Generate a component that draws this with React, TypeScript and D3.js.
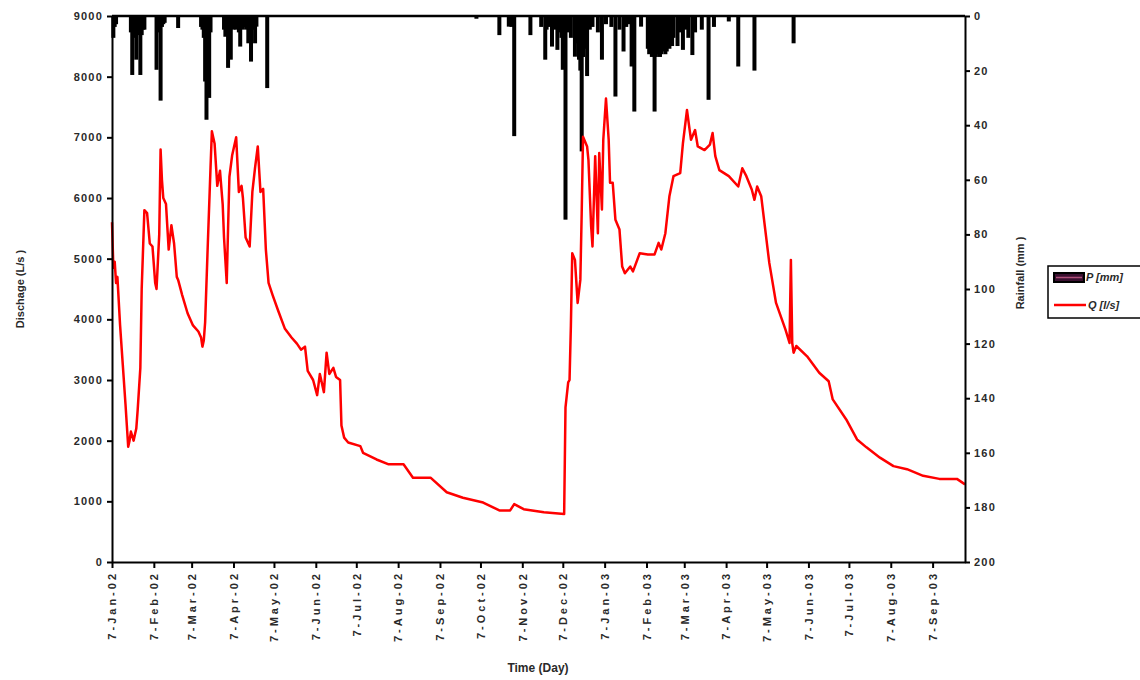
import React, { useEffect, useRef } from "react";
import * as d3 from "d3";

// Day 0 of the record is 7-Jan-2002; every reading is keyed by its day number.
const SERIES_START = new Date(2002, 0, 7);
const AXIS_END = new Date(2003, 9, 1);

// Discharge Q [l/s], [day, value]
const discharge: [number, number][] = [
  [0, 5600], [1, 4850], [2, 4950], [3, 4600], [4, 4700], [6, 3900], [8, 3250], [10, 2600],
  [11, 2250], [12, 1900], [13, 2000], [14, 2150], [16, 2000], [17, 2100], [18, 2200], [19, 2500],
  [21, 3200], [22, 4500], [24, 5800], [26, 5750], [28, 5250], [30, 5200], [32, 4600], [33, 4500],
  [34, 4950], [35, 5400], [36, 6800], [37, 6300], [38, 6000], [40, 5900], [42, 5150], [44, 5550],
  [46, 5250], [48, 4700], [49, 4650], [52, 4400], [56, 4100], [60, 3900], [64, 3800], [66, 3700],
  [67, 3550], [68, 3650], [69, 3950], [71, 5250], [73, 6500], [74, 7100], [76, 6900], [78, 6200],
  [80, 6450], [82, 5900], [83, 5350], [85, 4600], [86, 5500], [87, 6350], [89, 6700], [92, 7000],
  [94, 6100], [96, 6200], [97, 6000], [99, 5350], [102, 5200], [104, 6100], [106, 6500], [108, 6850],
  [110, 6100], [112, 6150], [114, 5150], [116, 4600], [119, 4400], [123, 4150], [128, 3850], [133, 3700],
  [137, 3600], [140, 3500], [143, 3550], [145, 3150], [149, 3000], [152, 2750], [154, 3100], [157, 2800],
  [159, 3450], [161, 3100], [164, 3200], [166, 3050], [169, 3000], [170, 2250], [172, 2050], [175, 1970],
  [184, 1910], [186, 1800], [196, 1690], [205, 1610], [216, 1610], [223, 1390], [236, 1390], [248, 1150],
  [260, 1060], [275, 980], [287, 850], [295, 850], [298, 955], [305, 870], [320, 820], [335, 790],
  [336, 2550], [338, 2960], [339, 3000], [340, 3900], [341, 5090], [343, 4980], [345, 4270], [347, 4650],
  [348, 5750], [349, 7010], [352, 6850], [353, 6630], [355, 5530], [356, 5200], [358, 6690], [360, 5420],
  [361, 6740], [363, 5810], [364, 6960], [366, 7640], [368, 6960], [369, 6250], [371, 6250], [373, 5640],
  [376, 5480], [378, 4870], [380, 4760], [384, 4870], [386, 4790], [391, 5090], [397, 5070], [402, 5070],
  [405, 5260], [407, 5150], [410, 5420], [413, 6030], [416, 6360], [421, 6410], [423, 6900], [426, 7450],
  [428, 7120], [429, 6960], [432, 7120], [434, 6850], [439, 6790], [443, 6880], [445, 7070], [447, 6690],
  [450, 6460], [457, 6360], [464, 6190], [467, 6490], [470, 6360], [474, 6140], [476, 5970], [478, 6190],
  [481, 6030], [484, 5480], [487, 4930], [492, 4270], [499, 3830], [502, 3610], [503, 4980], [504, 3610],
  [505, 3450], [507, 3560], [515, 3390], [524, 3120], [531, 2980], [534, 2680], [544, 2350], [552, 2020],
  [559, 1890], [569, 1720], [579, 1580], [589, 1530], [601, 1420], [613, 1370], [626, 1370], [632, 1280],
];

// Daily rainfall P [mm], [day, value]
const rainfall: [number, number][] = [
  [1, 8], [2, 4], [3, 3],
  [14, 6], [15, 21.6], [16, 8], [17, 6], [18, 16], [19, 7], [20, 6], [21, 21.6], [22, 7], [23, 5], [24, 5],
  [33, 19.7], [34, 6], [35, 5], [36, 31], [37, 4], [38, 3], [39, 2.5],
  [49, 4.4],
  [66, 4], [67, 5], [68, 8], [69, 24], [70, 38], [71, 12], [72, 30], [73, 6],
  [83, 5], [84, 7.6], [85, 5], [86, 19], [87, 6], [88, 16], [89, 4], [90, 5], [91, 4], [92, 5], [93, 4],
  [94, 6], [95, 11.2], [96, 4], [97, 5], [98, 3.3], [99, 4], [100, 5], [101, 10], [102, 6], [103, 16.7],
  [104, 5], [105, 4], [106, 10], [107, 3.9],
  [115, 26.4],
  [270, 1],
  [287, 7], [294, 3.9], [296, 4], [298, 44],
  [310, 7], [318, 4], [321, 16], [322, 5], [324, 4], [326, 11.2], [328, 5], [330, 12.4], [331, 6], [333, 8],
  [334, 19.7], [336, 74.6], [338, 6], [340, 8], [343, 14.9], [344, 7], [345, 10], [346, 16], [347, 20],
  [348, 49.6], [349, 15], [350, 12], [351, 10], [352, 22], [354, 5], [356, 4],
  [360, 6], [363, 16], [366, 3], [370, 4], [373, 29.5], [376, 5], [379, 13], [381, 4], [383, 3], [385, 18.5],
  [387, 35], [392, 3.9],
  [397, 12], [398, 14], [399, 13], [400, 15], [401, 14], [402, 35], [403, 15], [404, 14], [405, 13], [406, 15],
  [407, 14], [408, 13], [409, 12], [410, 14], [411, 13], [412, 11], [413, 12], [414, 10], [415, 11], [416, 8],
  [419, 11], [421, 6], [423, 12.4], [425, 5], [427, 8], [430, 14.3], [432, 6], [437, 5], [442, 30.7], [446, 4],
  [457, 2], [464, 18.5], [476, 20], [505, 10],
];

// Axis ticks
const monthTicks = d3.range(0, 21).map((i) => new Date(2002, i, 7));
const dischargeTicks = d3.range(0, 9001, 1000);
const rainTicks = d3.range(0, 201, 20);

const legendItems = ["P [mm]", "Q [l/s]"];

const W = 1140;
const H = 680;
const M = { left: 112, right: 965, top: 16, bottom: 562 };
const FONT = "'Liberation Sans', Arial, sans-serif";

const dayToDate = (d: number) => d3.timeDay.offset(SERIES_START, d);

export default function App() {
  const ref = useRef<SVGSVGElement>(null);

  useEffect(() => {
    const svg = d3.select(ref.current);
    svg.selectAll("*").remove();

    const x = d3.scaleTime().domain([SERIES_START, AXIS_END]).range([M.left, M.right]);
    const yQ = d3.scaleLinear().domain([0, 9000]).range([M.bottom, M.top]);
    const yP = d3.scaleLinear().domain([0, 200]).range([M.top, M.bottom]);

    // rainfall bars hanging from the top
    svg
      .append("g")
      .selectAll("rect")
      .data(rainfall)
      .join("rect")
      .attr("x", (d) => x(dayToDate(d[0])) - 2)
      .attr("width", 4)
      .attr("y", yP(0))
      .attr("height", (d) => yP(d[1]) - yP(0))
      .attr("fill", "#000");

    // discharge line
    const line = d3
      .line<[number, number]>()
      .x((d) => x(dayToDate(d[0])))
      .y((d) => yQ(d[1]));
    svg
      .append("path")
      .datum(discharge)
      .attr("d", line)
      .attr("fill", "none")
      .attr("stroke", "#ff0000")
      .attr("stroke-width", 2.5)
      .attr("stroke-linejoin", "round");

    const styleAxis = (g: any) => {
      g.select(".domain").attr("stroke", "#000").attr("stroke-width", 2);
      g.selectAll(".tick line").attr("stroke", "#000").attr("stroke-width", 2);
      g.selectAll(".tick text")
        .attr("fill", "#2a2a2a")
        .attr("font-family", FONT)
        .attr("font-weight", "bold")
        .attr("font-size", 11)
        .attr("letter-spacing", 1.2);
    };

    // left axis
    svg
      .append("g")
      .attr("transform", `translate(${M.left},0)`)
      .call(d3.axisLeft(yQ).tickValues(dischargeTicks).tickSize(5).tickSizeOuter(0).tickPadding(4).tickFormat(d3.format("d")))
      .call(styleAxis);

    // right axis
    svg
      .append("g")
      .attr("transform", `translate(${M.right},0)`)
      .call(d3.axisRight(yP).tickValues(rainTicks).tickSize(5).tickSizeOuter(0).tickPadding(4).tickFormat(d3.format("d")))
      .call(styleAxis);

    // top line (rainfall baseline)
    svg
      .append("line")
      .attr("x1", M.left)
      .attr("x2", M.right)
      .attr("y1", M.top)
      .attr("y2", M.top)
      .attr("stroke", "#000")
      .attr("stroke-width", 2.5);

    // bottom time axis
    const gx = svg
      .append("g")
      .attr("transform", `translate(0,${M.bottom})`)
      .call(d3.axisBottom(x).tickValues(monthTicks).tickSize(6).tickSizeOuter(0).tickFormat(d3.timeFormat("%-d-%b-%y") as any))
      .call(styleAxis);
    gx.selectAll(".tick text")
      .attr("transform", "rotate(-90)")
      .attr("text-anchor", "end")
      .attr("dy", "0.35em")
      .attr("x", -9)
      .attr("y", 0)
      .attr("letter-spacing", 3);

    // axis titles
    svg
      .append("text")
      .attr("transform", `translate(24,${(M.top + M.bottom) / 2}) rotate(-90)`)
      .attr("text-anchor", "middle")
      .attr("font-family", FONT)
      .attr("font-size", 11)
      .attr("font-weight", "bold")
      .attr("fill", "#2a2a2a")
      .text("Dischage (L/s )");

    svg
      .append("text")
      .attr("transform", `translate(1024,${(M.top + M.bottom) / 2 - 16}) rotate(-90)`)
      .attr("text-anchor", "middle")
      .attr("font-family", FONT)
      .attr("font-size", 11)
      .attr("font-weight", "bold")
      .attr("fill", "#2a2a2a")
      .text("Rainfall (mm )");

    svg
      .append("text")
      .attr("x", 538)
      .attr("y", 672)
      .attr("text-anchor", "middle")
      .attr("font-family", FONT)
      .attr("font-size", 12)
      .attr("font-weight", "bold")
      .attr("fill", "#2a2a2a")
      .text("Time (Day)");

    // legend
    const lg = svg.append("g").attr("transform", "translate(1048,266)");
    lg.append("rect")
      .attr("width", 100)
      .attr("height", 52)
      .attr("fill", "#fff")
      .attr("stroke", "#000")
      .attr("stroke-width", 1.5);
    lg.append("rect")
      .attr("x", 6)
      .attr("y", 7)
      .attr("width", 30)
      .attr("height", 9)
      .attr("fill", "#3a1030")
      .attr("stroke", "#000")
      .attr("stroke-width", 2);
    lg.append("line")
      .attr("x1", 8)
      .attr("x2", 34)
      .attr("y1", 11.5)
      .attr("y2", 11.5)
      .attr("stroke", "#b0507a")
      .attr("stroke-width", 1.5);
    lg.append("line")
      .attr("x1", 6)
      .attr("x2", 38)
      .attr("y1", 39)
      .attr("y2", 39)
      .attr("stroke", "#ff0000")
      .attr("stroke-width", 2.5);
    lg.selectAll("text.item")
      .data(legendItems)
      .join("text")
      .attr("class", "item")
      .attr("x", (d, i) => (i === 0 ? 38 : 40))
      .attr("y", (d, i) => (i === 0 ? 15 : 43))
      .attr("font-family", FONT)
      .attr("font-size", 11)
      .attr("font-weight", "bold")
      .attr("font-style", "italic")
      .attr("fill", "#2a2a2a")
      .text((d) => d);
  }, []);

  return (
    <svg
      ref={ref}
      width={W}
      height={H}
      style={{ position: "absolute", left: 0, top: 0, background: "#fff" }}
    />
  );
}
